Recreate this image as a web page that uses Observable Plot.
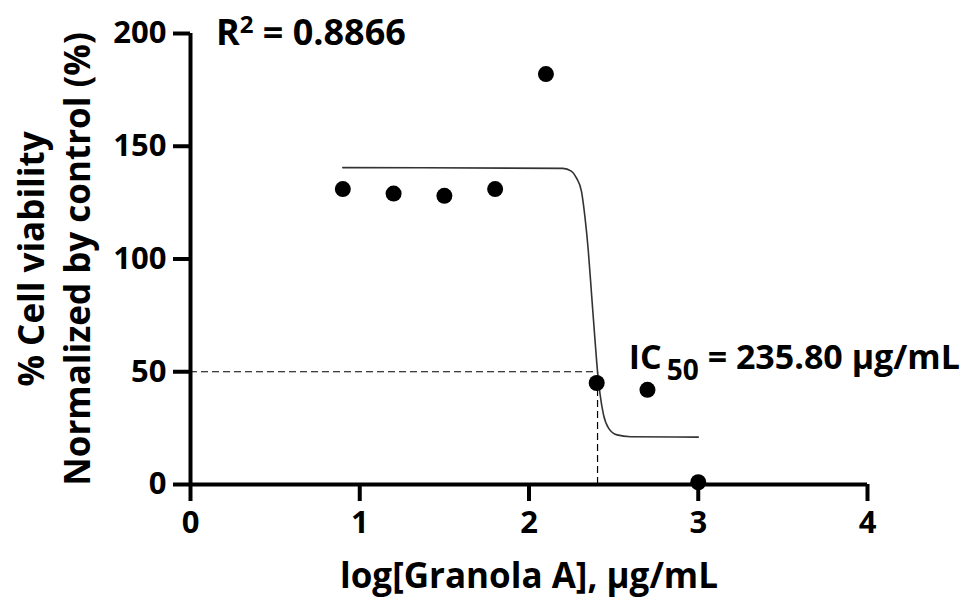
<!DOCTYPE html>
<html>
<head>
<meta charset="utf-8">
<script src="https://cdn.jsdelivr.net/npm/d3@7"></script>
<script src="https://cdn.jsdelivr.net/npm/@observablehq/plot@0.6"></script>
<style>
  html, body { margin: 0; padding: 0; background: #fff; }
  #chart svg { display: block; }
  g[aria-label="x-axis tick"] path, g[aria-label="y-axis tick"] path,
  g[aria-label="x-axis"] .tick line, g[aria-label="y-axis"] .tick line { stroke-width: 4px; stroke: #000; }
</style>
</head>
<body>
<div id="chart"></div>
<script>
// Measured data points (log concentration, % viability)
const logConc = [0.9, 1.2, 1.5, 1.8, 2.1, 2.4, 2.7, 3.0];
const viability = [131, 129, 128, 131, 182, 45, 42, 1];

// Fitted curve
const curveX = [0.9, 2.2, 2.25, 2.28, 2.31, 2.33, 2.35, 2.37, 2.39, 2.405, 2.42, 2.44, 2.47, 2.52, 2.6, 3.0];
const curveY = [140.5, 140.2, 139, 136, 130, 119, 104, 84, 64, 50, 40, 31, 25, 22, 21.2, 21];

// IC50 guide lines crossing point
const crossX = 2.405;
const crossY = 50;

const xTicks = [0, 1, 2, 3, 4];
const yTicks = [0, 50, 100, 150, 200];

const r2Label = "R2 = 0.8866";
const ic50Label = "IC50 = 235.80 μg/mL";
const xTitle = "log[Granola A], μg/mL";
const yTitle = "% Cell viability\nNormalized by control (%)";

const points = logConc.map((x, i) => ({x, y: viability[i]}));
const curve = curveX.map((x, i) => ({x, y: curveY[i]}));

const font = "'Open Sans', 'Noto Sans', sans-serif";

const chart = Plot.plot({
  width: 966,
  height: 602,
  marginLeft: 190,
  marginRight: 99,
  marginTop: 33,
  marginBottom: 118,
  style: {fontFamily: font, fontSize: "31px", fontWeight: "700", color: "#000", background: "#fff", overflow: "visible"},
  x: {domain: [0, 4], ticks: xTicks, tickSize: 17, tickPadding: 9, tickFormat: d => d, label: null},
  y: {domain: [0, 200], ticks: yTicks, tickSize: 17, tickPadding: 7, tickFormat: d => d, label: null},
  marks: [
    Plot.ruleY([crossY], {x1: 0, x2: crossX, stroke: "#000", strokeWidth: 1.2, strokeDasharray: "7,4"}),
    Plot.ruleX([crossX], {y1: 0, y2: crossY, stroke: "#000", strokeWidth: 1.2, strokeDasharray: "7,4"}),
    Plot.line(curve, {x: "x", y: "y", curve: "monotone-x", stroke: "#333", strokeWidth: 1.6}),
    Plot.ruleY([0], {x1: 0, x2: 4, stroke: "#000", strokeWidth: 4}),
    Plot.ruleX([0], {y1: 0, y2: 200, stroke: "#000", strokeWidth: 4}),
    Plot.dot(points, {x: "x", y: "y", r: 8, fill: "#000", stroke: "none"}),
    Plot.text([r2Label], {x: 0.15, y: 200, text: d => d, textAnchor: "start", lineAnchor: "middle", fontSize: 36, fill: "#000"}),
    Plot.text([ic50Label], {x: 2.59, y: 56, text: d => d, textAnchor: "start", lineAnchor: "middle", fontSize: 34, fill: "#000"}),
    Plot.text([xTitle], {frameAnchor: "bottom", dy: 92, text: d => d, textAnchor: "middle", lineAnchor: "middle", fontSize: 35, fill: "#000"}),
    Plot.text([yTitle], {frameAnchor: "left", dx: -138, rotate: -90, text: d => d, textAnchor: "middle", lineAnchor: "middle", lineHeight: 1.3, fontSize: 35, fill: "#000"})
  ]
});

document.getElementById("chart").appendChild(chart);

// Superscript / subscript formatting
d3.select(chart).selectAll("text").each(function() {
  const t = this.textContent;
  if (t === r2Label) {
    d3.select(this).html("").call(s => {
      s.append("tspan").text("R");
      s.append("tspan").attr("dy", "-12").attr("font-size", "24").text("2");
      s.append("tspan").attr("dy", "12").text(" = 0.8866");
    });
  } else if (t === ic50Label) {
    d3.select(this).html("").call(s => {
      s.append("tspan").text("IC");
      s.append("tspan").attr("dy", "11").attr("dx", "5").attr("font-size", "28").text("50");
      s.append("tspan").attr("dy", "-11").text(" = 235.80 μg/mL");
    });
  }
});
</script>
</body>
</html>
